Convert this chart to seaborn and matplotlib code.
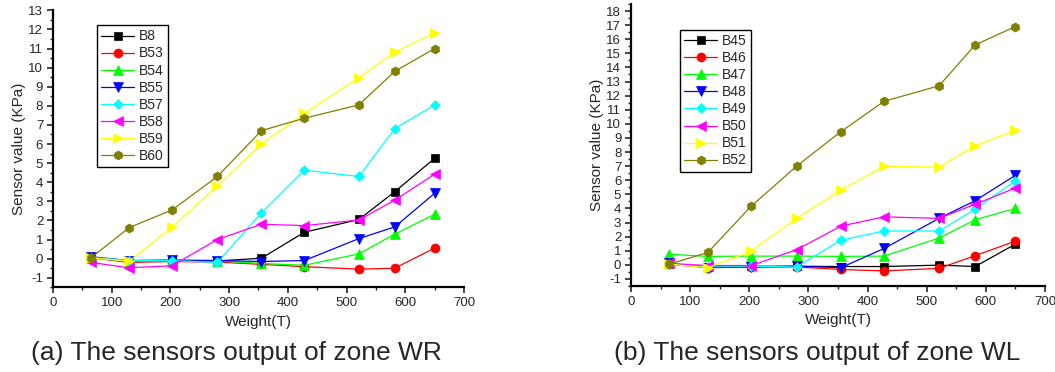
import numpy as np
import pandas as pd
import matplotlib
matplotlib.use("Agg")
import matplotlib.pyplot as plt
import seaborn as sns
from matplotlib.ticker import MultipleLocator

# weights (T) at each load step
weight = [65, 130, 203, 280, 355, 428, 521, 582, 650]

# zone WR sensors (KPa)
wr_labels = ["B8", "B53", "B54", "B55", "B57", "B58", "B59", "B60"]
b8 = [0.05, -0.15, -0.1, -0.12, 0.02, 1.38, 2.05, 3.5, 5.25]
b53 = [0.05, -0.2, -0.15, -0.18, -0.3, -0.42, -0.55, -0.5, 0.55]
b54 = [0.05, -0.15, -0.12, -0.12, -0.25, -0.35, 0.25, 1.28, 2.32]
b55 = [0.1, -0.1, -0.07, -0.1, -0.15, -0.1, 1.05, 1.66, 3.42]
b57 = [0.05, -0.1, -0.1, -0.2, 2.4, 4.63, 4.3, 6.8, 8.05]
b58 = [-0.2, -0.48, -0.37, 1.0, 1.8, 1.73, 2.02, 3.06, 4.42]
b59 = [0.05, -0.13, 1.65, 3.8, 6.0, 7.6, 9.47, 10.8, 11.83]
b60 = [0.05, 1.63, 2.55, 4.3, 6.7, 7.35, 8.05, 9.8, 11.0]
wr_values = [b8, b53, b54, b55, b57, b58, b59, b60]

# zone WL sensors (KPa)
wl_labels = ["B45", "B46", "B47", "B48", "B49", "B50", "B51", "B52"]
b45 = [0.05, -0.15, -0.1, -0.1, -0.12, -0.12, -0.02, -0.12, 1.47]
b46 = [0.05, -0.2, -0.15, -0.15, -0.33, -0.43, -0.25, 0.65, 1.68]
b47 = [0.75, 0.6, 0.62, 0.62, 0.6, 0.62, 1.9, 3.2, 4.0]
b48 = [0.1, -0.2, -0.15, -0.1, -0.2, 1.16, 3.3, 4.55, 6.35]
b49 = [0.05, -0.15, -0.1, -0.15, 1.75, 2.4, 2.4, 3.95, 5.95]
b50 = [0.1, -0.05, -0.05, 1.07, 2.75, 3.4, 3.3, 4.3, 5.45]
b51 = [0.05, -0.2, 0.97, 3.3, 5.3, 7.0, 6.92, 8.46, 9.53]
b52 = [0.05, 0.88, 4.15, 7.0, 9.45, 11.6, 12.7, 15.6, 16.9]
wl_values = [b45, b46, b47, b48, b49, b50, b51, b52]

colors = ["#000000", "#FF0000", "#00FF00", "#0000FF", "#00FFFF", "#FF00FF", "#FFFF00", "#808000"]
markers = ["s", "o", "^", "v", "D", "<", ">", "h"]
msizes = [5.5, 6.5, 7.5, 7.5, 5.5, 7.5, 7.5, 6.5]

sns.set_style("ticks")
plt.rcParams["font.family"] = ["Liberation Sans", "DejaVu Sans"]
plt.rcParams["axes.unicode_minus"] = False

fig = plt.figure(figsize=(10.55, 3.72), dpi=100)
ax_a = fig.add_axes([0.0502, 0.2277, 0.3896, 0.7446])
ax_b = fig.add_axes([0.5981, 0.2312, 0.3924, 0.7581])


def draw(ax, labels, values, ymax, leg_anchor):
    for lab, vals, c, m, ms in zip(labels, values, colors, markers, msizes):
        df = pd.DataFrame({"Weight": weight, "Value": vals})
        sns.lineplot(data=df, x="Weight", y="Value", ax=ax, color=c, marker=m,
                     markersize=ms, markeredgecolor=c, markeredgewidth=0.5,
                     linewidth=0.9, label=lab)
    ax.set_xlim(0, 700)
    ax.set_ylim(-1.5, ymax)
    ax.xaxis.set_major_locator(MultipleLocator(100))
    ax.xaxis.set_minor_locator(MultipleLocator(50))
    ax.yaxis.set_major_locator(MultipleLocator(1))
    ax.yaxis.set_minor_locator(MultipleLocator(0.5))
    ax.tick_params(which="major", direction="out", length=4, width=1.2, labelsize=9.5, pad=3)
    ax.tick_params(which="minor", direction="out", length=2.2, width=1.0)
    sns.despine(ax=ax)
    for s in ["left", "bottom"]:
        ax.spines[s].set_linewidth(1.6)
        ax.spines[s].set_color("black")
    ax.set_xlabel("Weight(T)", fontsize=11, labelpad=4)
    ax.set_ylabel("Sensor value (KPa)", fontsize=11, labelpad=2)
    leg = ax.legend(loc="upper left", bbox_to_anchor=leg_anchor, borderaxespad=0,
                    fontsize=10, frameon=True, fancybox=False, framealpha=1,
                    edgecolor="black", labelspacing=0.22, handlelength=2.4,
                    handletextpad=0.3, borderpad=0.3)
    leg.get_frame().set_linewidth(1.0)


draw(ax_a, wr_labels, wr_values, 13, (0.107, 0.946))
draw(ax_b, wl_labels, wl_values, 18.5, (0.118, 0.908))

fig.text(0.224, 0.05, "(a) The sensors output of zone WR", fontsize=19, ha="center", va="center")
fig.text(0.775, 0.05, "(b) The sensors output of zone WL", fontsize=19, ha="center", va="center")

fig.savefig("out.png", dpi=100)
